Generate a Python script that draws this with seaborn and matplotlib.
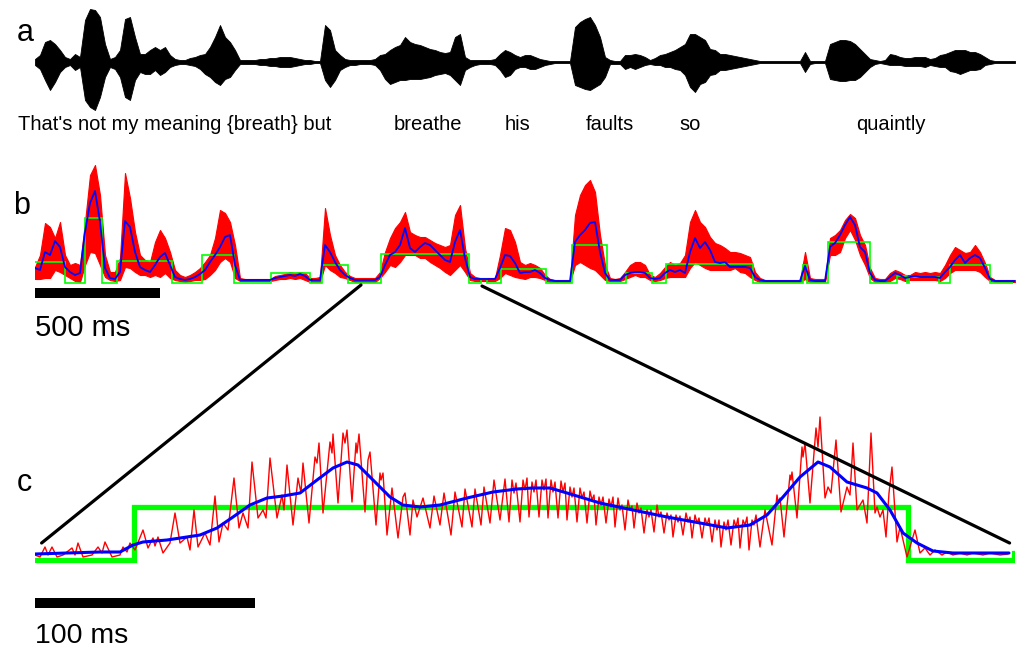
import numpy as np
import matplotlib
matplotlib.use("Agg")
import matplotlib.pyplot as plt
import seaborn as sns
from matplotlib.patches import ConnectionPatch

# ---------------- data ----------------
frame_ms = 20          # envelope frame step for panels a and b
total_ms = 3920

words = ["That's not my meaning {breath} but", "breathe", "his", "faults", "so", "quaintly"]
word_ms = [560, 1572, 1932, 2300, 2620, 3424]

# panel a: waveform envelope (upper / lower magnitude) per 20 ms frame
a_up = [3, 7, 20, 22, 18, 12, 5, 3, 8, 5,
        42, 53, 52, 45, 18, 3, 5, 12, 43, 45,
        25, 8, 8, 12, 15, 12, 15, 7, 3, 2,
        2, 4, 5, 7, 8, 15, 25, 37, 25, 20,
        12, 2, 2, 2, 2, 3, 3, 4, 4, 5,
        5, 5, 4, 3, 2, 2, 1, 1, 37, 32,
        12, 7, 3, 2, 2, 2, 2, 2, 3, 7,
        8, 12, 15, 17, 25, 20, 18, 17, 15, 13,
        12, 10, 9, 10, 25, 28, 5, 2, 2, 2,
        2, 2, 3, 8, 12, 10, 7, 5, 7, 7,
        5, 3, 2, 1, 1, 1, 1, 1, 35, 40,
        43, 45, 37, 25, 5, 2, 1, 1, 7, 7,
        8, 7, 5, 2, 4, 7, 8, 10, 12, 15,
        18, 28, 28, 25, 22, 13, 12, 8, 8, 7,
        6, 5, 4, 3, 2, 1, 1, 1, 1, 1,
        1, 1, 1, 1, 10, 1, 1, 1, 1, 18,
        20, 22, 22, 21, 18, 13, 8, 3, 2, 1,
        2, 8, 7, 5, 4, 4, 5, 5, 5, 3,
        4, 7, 8, 10, 12, 12, 12, 10, 10, 8,
        5, 2, 1, 1, 1, 1, 1]
a_lo = [3, 7, 18, 28, 20, 10, 5, 3, 8, 5,
        38, 45, 48, 35, 15, 5, 7, 15, 35, 38,
        18, 10, 12, 12, 8, 13, 10, 5, 3, 2,
        2, 3, 4, 7, 12, 15, 20, 23, 17, 15,
        8, 2, 2, 2, 2, 3, 3, 4, 4, 5,
        5, 5, 4, 3, 2, 2, 1, 1, 18, 25,
        18, 8, 5, 3, 3, 2, 2, 2, 3, 8,
        17, 22, 20, 18, 18, 17, 17, 17, 16, 15,
        13, 12, 11, 13, 18, 23, 8, 5, 3, 2,
        2, 2, 3, 8, 15, 13, 7, 5, 5, 7,
        7, 5, 3, 2, 1, 1, 1, 1, 23, 25,
        27, 28, 25, 22, 15, 2, 2, 2, 7, 5,
        7, 5, 3, 2, 3, 3, 5, 5, 7, 8,
        13, 25, 30, 22, 20, 13, 12, 8, 8, 7,
        6, 5, 4, 3, 2, 1, 1, 1, 1, 1,
        1, 1, 1, 1, 10, 2, 1, 1, 1, 17,
        18, 19, 19, 18, 18, 15, 10, 5, 2, 1,
        2, 3, 3, 3, 4, 4, 4, 4, 5, 3,
        4, 5, 5, 9, 10, 12, 10, 8, 8, 7,
        3, 2, 1, 1, 1, 1, 1]

# panel b: rectified signal range (top / bottom), smoothed envelope, segment means
b_top = [16, 28, 60, 56, 45, 61, 28, 18, 20, 18,
         61, 108, 118, 88, 28, 11, 11, 25, 110, 85,
         51, 28, 23, 21, 41, 53, 45, 31, 13, 8,
         6, 8, 11, 15, 21, 28, 45, 73, 70, 61,
         38, 5, 4, 4, 4, 4, 4, 4, 7, 8,
         9, 11, 10, 11, 10, 5, 5, 6, 75, 48,
         28, 18, 11, 7, 5, 5, 5, 5, 5, 11,
         31, 45, 55, 61, 71, 51, 48, 46, 46, 43,
         40, 38, 36, 38, 68, 78, 35, 10, 6, 5,
         5, 5, 5, 28, 55, 53, 41, 21, 18, 20,
         18, 15, 8, 4, 3, 3, 3, 3, 68, 88,
         98, 103, 91, 48, 18, 5, 4, 5, 11, 18,
         21, 21, 18, 8, 6, 10, 16, 21, 18, 20,
         28, 61, 73, 61, 56, 46, 40, 38, 35, 31,
         31, 30, 28, 26, 11, 5, 3, 3, 3, 3,
         3, 3, 3, 3, 31, 5, 4, 4, 4, 45,
         48, 53, 63, 69, 65, 48, 38, 15, 5, 4,
         4, 10, 13, 11, 8, 8, 11, 10, 11, 10,
         11, 10, 18, 28, 36, 33, 30, 31, 38, 31,
         20, 6, 3, 3, 3, 3, 3]
b_bot = [4, 4, 5, 5, 13, 11, 8, 5, 2, 1,
         18, 31, 30, 18, 6, 3, 2, 3, 16, 15,
         11, 8, 8, 6, 8, 6, 10, 5, 3, 2,
         1, 2, 3, 3, 4, 8, 13, 21, 25, 21,
         5, 2, 2, 2, 2, 2, 2, 2, 3, 4,
         4, 5, 4, 5, 3, 1, 1, 1, 18, 13,
         10, 6, 5, 3, 1, 1, 1, 1, 1, 5,
         11, 18, 16, 21, 28, 28, 28, 25, 25, 21,
         18, 15, 11, 8, 13, 18, 11, 3, 2, 2,
         2, 2, 2, 5, 10, 8, 6, 5, 4, 6,
         6, 5, 3, 1, 1, 1, 1, 1, 18, 21,
         18, 15, 13, 8, 3, 2, 2, 2, 4, 6,
         8, 6, 6, 3, 2, 3, 5, 6, 6, 6,
         6, 15, 21, 18, 15, 13, 13, 13, 13, 13,
         15, 11, 10, 6, 3, 1, 1, 1, 1, 1,
         1, 1, 1, 1, 4, 1, 1, 1, 1, 28,
         28, 31, 45, 53, 43, 28, 18, 5, 1, 1,
         1, 2, 5, 4, 2, 3, 3, 3, 3, 3,
         3, 2, 5, 10, 13, 13, 13, 13, 13, 11,
         6, 2, 1, 1, 1, 1, 1]
b_blue = [15, 13, 31, 28, 42, 36, 16, 11, 8, 10,
          51, 80, 92, 61, 15, 5, 4, 11, 62, 56,
          31, 16, 13, 11, 18, 26, 30, 18, 6, 4,
          3, 4, 6, 9, 13, 21, 28, 36, 46, 48,
          18, 3, 3, 3, 3, 3, 3, 3, 5, 6,
          7, 8, 7, 9, 7, 3, 3, 3, 38, 31,
          21, 13, 8, 5, 3, 3, 3, 3, 3, 6,
          18, 28, 31, 38, 55, 35, 31, 36, 40, 38,
          33, 28, 23, 21, 41, 53, 25, 6, 4, 4,
          4, 4, 4, 15, 28, 27, 20, 10, 11, 11,
          13, 10, 5, 3, 2, 2, 2, 2, 41, 48,
          53, 60, 61, 31, 10, 3, 3, 3, 8, 10,
          11, 11, 10, 5, 4, 5, 10, 13, 11, 13,
          10, 31, 45, 35, 41, 33, 21, 20, 21, 16,
          16, 16, 16, 15, 6, 3, 2, 2, 2, 2,
          2, 2, 2, 2, 17, 3, 2, 2, 2, 36,
          40, 48, 58, 66, 58, 36, 31, 10, 3, 2,
          2, 6, 10, 8, 5, 6, 7, 6, 6, 6,
          6, 5, 11, 16, 23, 28, 20, 25, 28, 25,
          15, 4, 2, 2, 2, 2, 2]
b_edges_ms = [0, 120, 200, 268, 328, 548, 668, 796, 944, 1100, 1148, 1252, 1384,
              1736, 1784, 1808, 1864, 2044, 2148, 2288, 2364, 2468, 2524, 2872,
              3072, 3088, 3172, 3340, 3448, 3488, 3496, 3616, 3660, 3820, 3912]
b_levels = [21, 0, 65, 0, 22, 0, 28, 0, 10, 0, 18, 0, 29, 0, 4, 0, 14,
            0, 38, 0, 10, 0, 19, 0, 18, 0, 41, 0, 7, 0, 6, 0, 18, 0]

# panel c: zoom (samples at 2.2 kHz from zoom start)
c_start_ms = 1339
c_fs_khz = 2.2
c_gain = 53 / 29       # vertical magnification of c relative to b
c_red = [(0, 5), (5, 3), (10, 13), (13, 5), (17, 13), (22, 3), (28, 5), (37, 12), (40, 5),
         (43, 17), (48, 3), (57, 5), (63, 13), (67, 7), (70, 18), (77, 3), (85, 5), (88, 13),
         (92, 8), (95, 17), (100, 10), (108, 30), (113, 12), (118, 22), (120, 14), (123, 23),
         (128, 7), (135, 17), (140, 47), (145, 17), (152, 23), (155, 10), (159, 50), (163, 13),
         (170, 27), (175, 15), (180, 64), (184, 18), (188, 37), (193, 30), (199, 82), (204, 32),
         (208, 47), (213, 32), (217, 98), (223, 42), (228, 50), (231, 42), (235, 102),
         (242, 42), (247, 65), (249, 50), (252, 95), (258, 35), (263, 82), (266, 67), (268, 97),
         (274, 37), (280, 103), (282, 97), (284, 117), (288, 47), (295, 118), (297, 107),
         (298, 126), (303, 57), (308, 127), (310, 117), (312, 130), (317, 58), (321, 117),
         (322, 107), (324, 126), (330, 48), (333, 100), (335, 108), (341, 35), (345, 87),
         (346, 80), (348, 87), (352, 25), (357, 72), (363, 22), (368, 63), (370, 67), (375, 25),
         (378, 60), (382, 43), (388, 62), (395, 32), (399, 64), (405, 35), (409, 67), (416, 25),
         (420, 68), (427, 33), (430, 71), (437, 33), (440, 71), (446, 35), (449, 73), (455, 37),
         (459, 80), (465, 40), (470, 81), (474, 38),
         (477, 80), (479, 67), (481, 77), (485, 38), (488, 80), (490, 70), (492, 82),
         (494, 43), (497, 78), (499, 68), (501, 80), (504, 43), (507, 80), (509, 70), (511, 81),
         (513, 42), (516, 80), (518, 68), (520, 78), (523, 42), (526, 79), (528, 68), (530, 77),
         (532, 40), (535, 73), (537, 63), (539, 72), (542, 38), (545, 72), (547, 62), (549, 68),
         (552, 37), (555, 69), (557, 60), (559, 65), (561, 35), (564, 63), (566, 55), (568, 63),
         (571, 37), (574, 61), (576, 53), (578, 63), (580, 33), (583, 62), (585, 50), (587, 55),
         (590, 30), (593, 60), (595, 50), (597, 54), (599, 32), (602, 57), (604, 47), (606, 52),
         (609, 27), (612, 50), (614, 43), (616, 50), (619, 28), (622, 55), (624, 43), (626, 48),
         (629, 27), (632, 47), (634, 40), (636, 45), (638, 23), (641, 45), (643, 38), (645, 44),
         (648, 25), (651, 47), (653, 38), (655, 43), (657, 22), (660, 45), (662, 37), (664, 42),
         (667, 22), (670, 42), (672, 35), (674, 42), (677, 18), (680, 40), (682, 30), (684, 40),
         (686, 13), (689, 38), (691, 30), (693, 40), (696, 15), (699, 40), (701, 33), (703, 42),
         (705, 12), (708, 40), (710, 35), (712, 43), (714, 10), (717, 40), (719, 35), (721, 45),
         (725, 13), (730, 50), (737, 15), (742, 65), (743, 58), (745, 62), (749, 23), (755, 85),
         (756, 80), (757, 88), (762, 42), (767, 113), (768, 103), (770, 117), (775, 57),
         (781, 132), (783, 113), (785, 143), (790, 62), (793, 73), (796, 67), (801, 120),
         (806, 48), (812, 73), (815, 65), (818, 117), (822, 50), (828, 60), (832, 37), (836, 127),
         (840, 47), (842, 53), (845, 43), (848, 50), (851, 23), (854, 67), (857, 93), (862, 18),
         (865, 33), (872, 3), (880, 30), (885, 7), (890, 12), (895, 5), (900, 10), (907, 5),
         (912, 8), (918, 5), (925, 7), (932, 5), (938, 7), (948, 5), (955, 7), (965, 5), (973, 6)]
c_blue = [(0, 6), (32, 7), (65, 8), (85, 8), (98, 15), (108, 18), (132, 20), (165, 25), (182, 32),
          (198, 43), (215, 55), (232, 62), (248, 64), (265, 67), (282, 80), (298, 92), (312, 98),
          (323, 95), (338, 80), (355, 63), (368, 55), (385, 53), (405, 55), (432, 62), (458, 68),
          (482, 71), (498, 72), (515, 72), (532, 67), (565, 57), (598, 50), (632, 43), (665, 37),
          (692, 32), (715, 35), (732, 45), (748, 63), (765, 83), (783, 98), (795, 93), (812, 78),
          (832, 72), (842, 67), (855, 50), (868, 27), (882, 17), (898, 9), (918, 7), (974, 7)]

zoom_from_ms = [1304, 1788]   # where the zoom lines leave panel b
zoom_to_ms = [1342, 1782]     # where they reach panel c
scale_b_ms = 500
scale_c_ms = 100

RED, BLUE, GREEN, BLACK = "#ff0000", "#0000ff", "#00ff00", "#000000"

# ---------------- drawing ----------------
sns.set_style("white")
plt.rcParams["font.family"] = ["Liberation Sans", "DejaVu Sans"]
plt.rcParams["text.color"] = BLACK

W, H = 1019, 647
fig = plt.figure(figsize=(W / 100, H / 100), dpi=100)


def px_axes(l, r, top, bottom):
    return fig.add_axes([l / W, 1 - bottom / H, (r - l) / W, (bottom - top) / H])


t_frames = np.arange(len(a_up)) * frame_ms

# panel a
ax_a = px_axes(35, 1015, 0, 140)
ax_a.set_xlim(0, total_ms)
ax_a.set_ylim(-78, 62)
ax_a.fill_between(t_frames, -np.array(a_lo), np.array(a_up), color=BLACK, lw=0.6)
for w, t in zip(words, word_ms):
    ax_a.text(t, -62, w, ha="center", va="center", fontsize=14.5, color=BLACK)
ax_a.axis("off")

# panel b
ax_b = px_axes(35, 1015, 150, 345)
ax_b.set_xlim(0, total_ms)
ax_b.set_ylim(-62, 133)
ax_b.fill_between(t_frames, np.array(b_bot), np.array(b_top), color=RED, lw=0.8)
ax_b.stairs(b_levels, b_edges_ms, baseline=None, color=GREEN, lw=1.2)
sns.lineplot(x=t_frames, y=b_blue, ax=ax_b, color=BLUE, lw=1.3, estimator=None, sort=False)
ax_b.plot([0, scale_b_ms], [-10, -10], color=BLACK, lw=7.2, solid_capstyle="butt")
ax_b.text(0, -45, f"{scale_b_ms} ms", ha="left", va="center", fontsize=21, color=BLACK)
ax_b.axis("off")

# panel c
ax_c = px_axes(35, 1015, 400, 647)
ax_c.set_xlim(c_start_ms, c_start_ms + 980 / c_fs_khz)
ax_c.set_ylim(-87, 160)
red_i, red_v = zip(*c_red)
blue_i, blue_v = zip(*c_blue)
sns.lineplot(x=c_start_ms + np.array(red_i) / c_fs_khz, y=list(red_v), ax=ax_c,
             color=RED, lw=1.0, estimator=None, sort=False)
ax_c.stairs(np.array(b_levels) * c_gain, b_edges_ms, baseline=None, color=GREEN, lw=3.8)
sns.lineplot(x=c_start_ms + np.array(blue_i) / c_fs_khz, y=list(blue_v), ax=ax_c,
             color=BLUE, lw=2.2, estimator=None, sort=False)
ax_c.plot([c_start_ms, c_start_ms + scale_c_ms], [-43, -43], color=BLACK, lw=7.2,
          solid_capstyle="butt")
ax_c.text(c_start_ms, -76, f"{scale_c_ms} ms", ha="left", va="center", fontsize=20.5,
          color=BLACK)
ax_c.axis("off")

# zoom connector lines
for tf, tt, vf in zip(zoom_from_ms, zoom_to_ms, [-2, -3]):
    con = ConnectionPatch(xyA=(tf, vf), coordsA=ax_b.transData,
                          xyB=(tt, 17), coordsB=ax_c.transData,
                          color=BLACK, lw=2.3, zorder=5)
    fig.add_artist(con)

# panel letters
for letter, (x, y) in zip("abc", [(25, 33), (22, 206), (24, 483)]):
    fig.text(x / W, 1 - y / H, letter, ha="center", va="center", fontsize=22, color=BLACK)

fig.savefig("out.png", dpi=100)
